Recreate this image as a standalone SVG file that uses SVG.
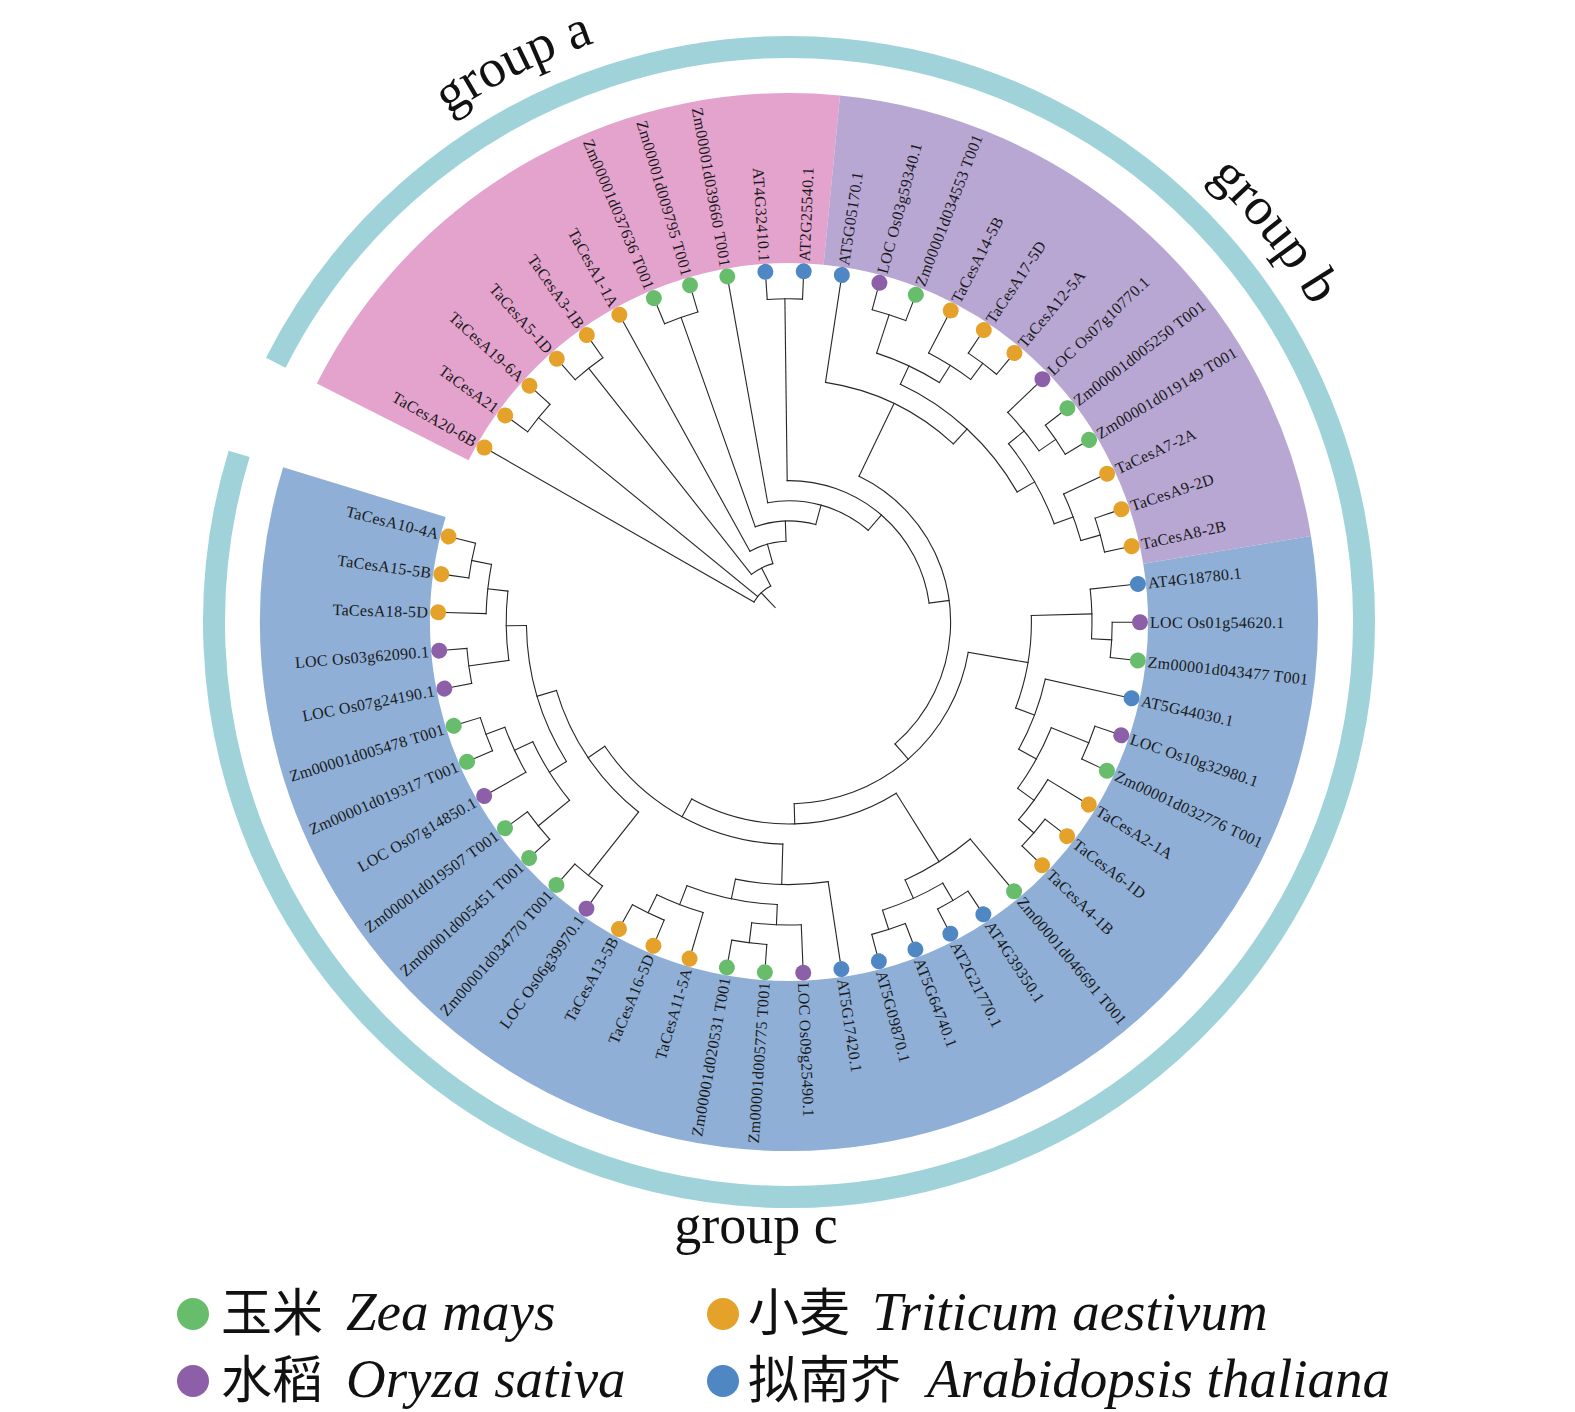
<svg xmlns="http://www.w3.org/2000/svg" width="1575" height="1412" viewBox="0 0 1575 1412">
<defs>
<style>
.br line,.br circle{fill:none;stroke:#262626;stroke-width:1.1;stroke-linecap:square}
.lab{font-family:"Liberation Serif",serif;font-size:16px;letter-spacing:0.3px;fill:#1a1a1a}
.g{fill:#67bd6c}.o{fill:#e5a22a}.p{fill:#8c5fa8}.b{fill:#4f87c5}
.sec{fill:none;stroke-width:170}
.grp{font-family:"Liberation Serif",serif;font-size:54px;fill:#111}
.cjk{font-family:"Noto Sans CJK SC",sans-serif;font-size:51px;fill:#111}
.it{font-family:"Liberation Serif",serif;font-style:italic;font-size:55px;fill:#111}
</style>
<path id="gp" d="M178,622 A611,611 0 0 1 1400,622 A611,611 0 0 1 178,622" fill="none"/>
</defs>
<rect width="1575" height="1412" fill="#fff"/>
<g id="backgrounds" transform="translate(789,622)">
<circle class="sec" r="444" stroke="#e3a3cd" pathLength="360" stroke-dasharray="68.73 999" transform="rotate(-153.2)"/>
<circle class="sec" r="444" stroke="#b8a7d3" pathLength="360" stroke-dasharray="75.12 999" transform="rotate(-84.47)"/>
<circle class="sec" r="444" stroke="#8fafd6" pathLength="360" stroke-dasharray="206.35 999" transform="rotate(-9.35)"/>
<circle r="575" fill="none" stroke="#9fd3d9" stroke-width="22" pathLength="360" stroke-dasharray="350.2 999" transform="rotate(-153.2)"/>
</g>
<g id="group-labels">
<text class="grp"><textPath href="#gp" startOffset="680" text-anchor="middle">group a</textPath></text>
<text class="grp"><textPath href="#gp" startOffset="1505" text-anchor="middle">group b</textPath></text>
<text class="grp" x="756" y="1243" text-anchor="middle">group c</text>
</g>
<g id="connectors" class="br" transform="translate(789,622)">
<line x1="20.2" x2="40.4" transform="rotate(-133.55)"/>
<circle r="40.4" pathLength="360" stroke-dasharray="33.309 999" transform="rotate(-150.2)"/>
<line x1="40.4" x2="60.6" transform="rotate(-116.891)"/>
<circle r="60.6" pathLength="360" stroke-dasharray="22.798 999" transform="rotate(-128.29)"/>
<line x1="60.6" x2="80.8" transform="rotate(-105.492)"/>
<circle r="80.8" pathLength="360" stroke-dasharray="26.816 999" transform="rotate(-118.9)"/>
<line x1="80.8" x2="101" transform="rotate(-92.084)"/>
<circle r="101" pathLength="360" stroke-dasharray="34.852 999" transform="rotate(-109.51)"/>
<line x1="101" x2="121.2" transform="rotate(-74.658)"/>
<circle r="121.2" pathLength="360" stroke-dasharray="50.924 999" transform="rotate(-100.12)"/>
<line x1="121.2" x2="141.4" transform="rotate(-49.196)"/>
<circle r="141.4" pathLength="360" stroke-dasharray="83.0675 999" transform="rotate(-90.73)"/>
<line x1="141.4" x2="161.6" transform="rotate(-7.6625)"/>
<circle r="161.6" pathLength="360" stroke-dasharray="113.315 999" transform="rotate(-64.32)"/>
<line x1="40.4" x2="323.2" transform="rotate(-140.81)"/>
<circle r="323.2" pathLength="360" stroke-dasharray="6.26 999" transform="rotate(-143.94)"/>
<line x1="60.6" x2="323.2" transform="rotate(-128.29)"/>
<circle r="323.2" pathLength="360" stroke-dasharray="6.26 999" transform="rotate(-131.42)"/>
<line x1="101" x2="323.2" transform="rotate(-109.51)"/>
<circle r="323.2" pathLength="360" stroke-dasharray="6.26 999" transform="rotate(-112.64)"/>
<line x1="141.4" x2="323.2" transform="rotate(-90.73)"/>
<circle r="323.2" pathLength="360" stroke-dasharray="6.26 999" transform="rotate(-93.86)"/>
<line x1="161.6" x2="242.4" transform="rotate(-64.32)"/>
<circle r="242.4" pathLength="360" stroke-dasharray="34.04 999" transform="rotate(-81.34)"/>
<line x1="242.4" x2="262.6" transform="rotate(-47.3)"/>
<circle r="262.6" pathLength="360" stroke-dasharray="35.2125 999" transform="rotate(-64.9075)"/>
<line x1="262.6" x2="282.8" transform="rotate(-64.9075)"/>
<circle r="282.8" pathLength="360" stroke-dasharray="14.085 999" transform="rotate(-71.95)"/>
<line x1="282.8" x2="323.2" transform="rotate(-71.95)"/>
<circle r="323.2" pathLength="360" stroke-dasharray="6.26 999" transform="rotate(-75.08)"/>
<line x1="282.8" x2="303" transform="rotate(-57.865)"/>
<circle r="303" pathLength="360" stroke-dasharray="9.39 999" transform="rotate(-62.56)"/>
<line x1="303" x2="323.2" transform="rotate(-53.17)"/>
<circle r="323.2" pathLength="360" stroke-dasharray="6.26 999" transform="rotate(-56.3)"/>
<line x1="262.6" x2="282.8" transform="rotate(-29.695)"/>
<circle r="282.8" pathLength="360" stroke-dasharray="18.78 999" transform="rotate(-39.085)"/>
<line x1="282.8" x2="303" transform="rotate(-39.085)"/>
<circle r="303" pathLength="360" stroke-dasharray="9.39 999" transform="rotate(-43.78)"/>
<line x1="303" x2="323.2" transform="rotate(-34.39)"/>
<circle r="323.2" pathLength="360" stroke-dasharray="6.26 999" transform="rotate(-37.52)"/>
<line x1="282.8" x2="303" transform="rotate(-20.305)"/>
<circle r="303" pathLength="360" stroke-dasharray="9.39 999" transform="rotate(-25)"/>
<line x1="303" x2="323.2" transform="rotate(-15.61)"/>
<circle r="323.2" pathLength="360" stroke-dasharray="6.26 999" transform="rotate(-18.74)"/>
<line x1="161.6" x2="181.8" transform="rotate(48.995)"/>
<circle r="181.8" pathLength="360" stroke-dasharray="78.739 999" transform="rotate(9.6255)"/>
<line x1="181.8" x2="242.4" transform="rotate(9.6255)"/>
<circle r="242.4" pathLength="360" stroke-dasharray="22.301 999" transform="rotate(-1.525)"/>
<line x1="242.4" x2="303" transform="rotate(-1.525)"/>
<circle r="303" pathLength="360" stroke-dasharray="9.39 999" transform="rotate(-6.22)"/>
<line x1="303" x2="323.2" transform="rotate(3.17)"/>
<circle r="323.2" pathLength="360" stroke-dasharray="6.26 999" transform="rotate(0.04)"/>
<line x1="242.4" x2="262.6" transform="rotate(20.776)"/>
<circle r="262.6" pathLength="360" stroke-dasharray="16.4325 999" transform="rotate(12.56)"/>
<line x1="262.6" x2="282.8" transform="rotate(28.9925)"/>
<circle r="282.8" pathLength="360" stroke-dasharray="14.085 999" transform="rotate(21.95)"/>
<line x1="282.8" x2="323.2" transform="rotate(21.95)"/>
<circle r="323.2" pathLength="360" stroke-dasharray="6.26 999" transform="rotate(18.82)"/>
<line x1="282.8" x2="303" transform="rotate(36.035)"/>
<circle r="303" pathLength="360" stroke-dasharray="9.39 999" transform="rotate(31.34)"/>
<line x1="303" x2="323.2" transform="rotate(40.73)"/>
<circle r="323.2" pathLength="360" stroke-dasharray="6.26 999" transform="rotate(37.6)"/>
<line x1="181.8" x2="202" transform="rotate(88.3645)"/>
<circle r="202" pathLength="360" stroke-dasharray="60.839 999" transform="rotate(57.945)"/>
<line x1="202" x2="282.8" transform="rotate(57.945)"/>
<circle r="282.8" pathLength="360" stroke-dasharray="15.65 999" transform="rotate(50.12)"/>
<line x1="282.8" x2="303" transform="rotate(65.77)"/>
<circle r="303" pathLength="360" stroke-dasharray="12.52 999" transform="rotate(59.51)"/>
<line x1="303" x2="323.2" transform="rotate(59.51)"/>
<circle r="323.2" pathLength="360" stroke-dasharray="6.26 999" transform="rotate(56.38)"/>
<line x1="303" x2="323.2" transform="rotate(72.03)"/>
<circle r="323.2" pathLength="360" stroke-dasharray="6.26 999" transform="rotate(68.9)"/>
<line x1="202" x2="222.2" transform="rotate(118.784)"/>
<circle r="222.2" pathLength="360" stroke-dasharray="54.3835 999" transform="rotate(91.5925)"/>
<line x1="222.2" x2="262.6" transform="rotate(91.5925)"/>
<circle r="262.6" pathLength="360" stroke-dasharray="20.345 999" transform="rotate(81.42)"/>
<line x1="262.6" x2="282.8" transform="rotate(101.765)"/>
<circle r="282.8" pathLength="360" stroke-dasharray="18.78 999" transform="rotate(92.375)"/>
<line x1="282.8" x2="303" transform="rotate(92.375)"/>
<circle r="303" pathLength="360" stroke-dasharray="9.39 999" transform="rotate(87.68)"/>
<line x1="303" x2="323.2" transform="rotate(97.07)"/>
<circle r="323.2" pathLength="360" stroke-dasharray="6.26 999" transform="rotate(93.94)"/>
<line x1="282.8" x2="303" transform="rotate(111.155)"/>
<circle r="303" pathLength="360" stroke-dasharray="9.39 999" transform="rotate(106.46)"/>
<line x1="303" x2="323.2" transform="rotate(115.85)"/>
<circle r="323.2" pathLength="360" stroke-dasharray="6.26 999" transform="rotate(112.72)"/>
<line x1="222.2" x2="242.4" transform="rotate(145.976)"/>
<circle r="242.4" pathLength="360" stroke-dasharray="35.2125 999" transform="rotate(128.37)"/>
<line x1="242.4" x2="323.2" transform="rotate(128.37)"/>
<circle r="323.2" pathLength="360" stroke-dasharray="6.26 999" transform="rotate(125.24)"/>
<line x1="242.4" x2="262.6" transform="rotate(163.5825)"/>
<circle r="262.6" pathLength="360" stroke-dasharray="31.3 999" transform="rotate(147.9325)"/>
<line x1="262.6" x2="282.8" transform="rotate(147.9325)"/>
<circle r="282.8" pathLength="360" stroke-dasharray="14.085 999" transform="rotate(140.89)"/>
<line x1="282.8" x2="323.2" transform="rotate(140.89)"/>
<circle r="323.2" pathLength="360" stroke-dasharray="6.26 999" transform="rotate(137.76)"/>
<line x1="282.8" x2="303" transform="rotate(154.975)"/>
<circle r="303" pathLength="360" stroke-dasharray="9.39 999" transform="rotate(150.28)"/>
<line x1="303" x2="323.2" transform="rotate(159.67)"/>
<circle r="323.2" pathLength="360" stroke-dasharray="6.26 999" transform="rotate(156.54)"/>
<line x1="262.6" x2="282.8" transform="rotate(179.2325)"/>
<circle r="282.8" pathLength="360" stroke-dasharray="14.085 999" transform="rotate(172.19)"/>
<line x1="282.8" x2="323.2" transform="rotate(172.19)"/>
<circle r="323.2" pathLength="360" stroke-dasharray="6.26 999" transform="rotate(169.06)"/>
<line x1="282.8" x2="303" transform="rotate(186.275)"/>
<circle r="303" pathLength="360" stroke-dasharray="9.39 999" transform="rotate(181.58)"/>
<line x1="303" x2="323.2" transform="rotate(190.97)"/>
<circle r="323.2" pathLength="360" stroke-dasharray="6.26 999" transform="rotate(187.84)"/>
<line x1="40.4" x2="343" transform="rotate(-150.2)"/>
<line x1="323.2" x2="343" transform="rotate(-143.94)"/>
<line x1="323.2" x2="343" transform="rotate(-137.68)"/>
<line x1="323.2" x2="343" transform="rotate(-131.42)"/>
<line x1="323.2" x2="343" transform="rotate(-125.16)"/>
<line x1="80.8" x2="343" transform="rotate(-118.9)"/>
<line x1="323.2" x2="343" transform="rotate(-112.64)"/>
<line x1="323.2" x2="343" transform="rotate(-106.38)"/>
<line x1="121.2" x2="343" transform="rotate(-100.12)"/>
<line x1="323.2" x2="343" transform="rotate(-93.86)"/>
<line x1="323.2" x2="343" transform="rotate(-87.6)"/>
<line x1="242.4" x2="343" transform="rotate(-81.34)"/>
<line x1="323.2" x2="343" transform="rotate(-75.08)"/>
<line x1="323.2" x2="343" transform="rotate(-68.82)"/>
<line x1="303" x2="343" transform="rotate(-62.56)"/>
<line x1="323.2" x2="343" transform="rotate(-56.3)"/>
<line x1="323.2" x2="343" transform="rotate(-50.04)"/>
<line x1="303" x2="343" transform="rotate(-43.78)"/>
<line x1="323.2" x2="343" transform="rotate(-37.52)"/>
<line x1="323.2" x2="343" transform="rotate(-31.26)"/>
<line x1="303" x2="343" transform="rotate(-25)"/>
<line x1="323.2" x2="343" transform="rotate(-18.74)"/>
<line x1="323.2" x2="343" transform="rotate(-12.48)"/>
<line x1="303" x2="343" transform="rotate(-6.22)"/>
<line x1="323.2" x2="343" transform="rotate(0.04)"/>
<line x1="323.2" x2="343" transform="rotate(6.3)"/>
<line x1="262.6" x2="343" transform="rotate(12.56)"/>
<line x1="323.2" x2="343" transform="rotate(18.82)"/>
<line x1="323.2" x2="343" transform="rotate(25.08)"/>
<line x1="303" x2="343" transform="rotate(31.34)"/>
<line x1="323.2" x2="343" transform="rotate(37.6)"/>
<line x1="323.2" x2="343" transform="rotate(43.86)"/>
<line x1="282.8" x2="343" transform="rotate(50.12)"/>
<line x1="323.2" x2="343" transform="rotate(56.38)"/>
<line x1="323.2" x2="343" transform="rotate(62.64)"/>
<line x1="323.2" x2="343" transform="rotate(68.9)"/>
<line x1="323.2" x2="343" transform="rotate(75.16)"/>
<line x1="262.6" x2="343" transform="rotate(81.42)"/>
<line x1="303" x2="343" transform="rotate(87.68)"/>
<line x1="323.2" x2="343" transform="rotate(93.94)"/>
<line x1="323.2" x2="343" transform="rotate(100.2)"/>
<line x1="303" x2="343" transform="rotate(106.46)"/>
<line x1="323.2" x2="343" transform="rotate(112.72)"/>
<line x1="323.2" x2="343" transform="rotate(118.98)"/>
<line x1="323.2" x2="343" transform="rotate(125.24)"/>
<line x1="323.2" x2="343" transform="rotate(131.5)"/>
<line x1="323.2" x2="343" transform="rotate(137.76)"/>
<line x1="323.2" x2="343" transform="rotate(144.02)"/>
<line x1="303" x2="343" transform="rotate(150.28)"/>
<line x1="323.2" x2="343" transform="rotate(156.54)"/>
<line x1="323.2" x2="343" transform="rotate(162.8)"/>
<line x1="323.2" x2="343" transform="rotate(169.06)"/>
<line x1="323.2" x2="343" transform="rotate(175.32)"/>
<line x1="303" x2="343" transform="rotate(181.58)"/>
<line x1="323.2" x2="343" transform="rotate(187.84)"/>
<line x1="323.2" x2="343" transform="rotate(194.1)"/>
</g>
<g id="tips" transform="translate(789,622)">
<g id="t0" transform="rotate(-150.2)"><circle class="o" cx="351" r="8"/><text class="lab" transform="rotate(180)" x="-361" dy=".35em" text-anchor="end">TaCesA20-6B</text></g>
<g id="t1" transform="rotate(-143.94)"><circle class="o" cx="351" r="8"/><text class="lab" transform="rotate(180)" x="-361" dy=".35em" text-anchor="end">TaCesA21</text></g>
<g id="t2" transform="rotate(-137.68)"><circle class="o" cx="351" r="8"/><text class="lab" transform="rotate(180)" x="-361" dy=".35em" text-anchor="end">TaCesA19-6A</text></g>
<g id="t3" transform="rotate(-131.42)"><circle class="o" cx="351" r="8"/><text class="lab" transform="rotate(180)" x="-361" dy=".35em" text-anchor="end">TaCesA5-1D</text></g>
<g id="t4" transform="rotate(-125.16)"><circle class="o" cx="351" r="8"/><text class="lab" transform="rotate(180)" x="-361" dy=".35em" text-anchor="end">TaCesA3-1B</text></g>
<g id="t5" transform="rotate(-118.9)"><circle class="o" cx="351" r="8"/><text class="lab" transform="rotate(180)" x="-361" dy=".35em" text-anchor="end">TaCesA1-1A</text></g>
<g id="t6" transform="rotate(-112.64)"><circle class="g" cx="351" r="8"/><text class="lab" transform="rotate(180)" x="-361" dy=".35em" text-anchor="end">Zm00001d037636 T001</text></g>
<g id="t7" transform="rotate(-106.38)"><circle class="g" cx="351" r="8"/><text class="lab" transform="rotate(180)" x="-361" dy=".35em" text-anchor="end">Zm00001d009795 T001</text></g>
<g id="t8" transform="rotate(-100.12)"><circle class="g" cx="351" r="8"/><text class="lab" transform="rotate(180)" x="-361" dy=".35em" text-anchor="end">Zm00001d039660 T001</text></g>
<g id="t9" transform="rotate(-93.86)"><circle class="b" cx="351" r="8"/><text class="lab" transform="rotate(180)" x="-361" dy=".35em" text-anchor="end">AT4G32410.1</text></g>
<g id="t10" transform="rotate(-87.6)"><circle class="b" cx="351" r="8"/><text class="lab" x="361" dy=".35em">AT2G25540.1</text></g>
<g id="t11" transform="rotate(-81.34)"><circle class="b" cx="351" r="8"/><text class="lab" x="361" dy=".35em">AT5G05170.1</text></g>
<g id="t12" transform="rotate(-75.08)"><circle class="p" cx="351" r="8"/><text class="lab" x="361" dy=".35em">LOC Os03g59340.1</text></g>
<g id="t13" transform="rotate(-68.82)"><circle class="g" cx="351" r="8"/><text class="lab" x="361" dy=".35em">Zm00001d034553 T001</text></g>
<g id="t14" transform="rotate(-62.56)"><circle class="o" cx="351" r="8"/><text class="lab" x="361" dy=".35em">TaCesA14-5B</text></g>
<g id="t15" transform="rotate(-56.3)"><circle class="o" cx="351" r="8"/><text class="lab" x="361" dy=".35em">TaCesA17-5D</text></g>
<g id="t16" transform="rotate(-50.04)"><circle class="o" cx="351" r="8"/><text class="lab" x="361" dy=".35em">TaCesA12-5A</text></g>
<g id="t17" transform="rotate(-43.78)"><circle class="p" cx="351" r="8"/><text class="lab" x="361" dy=".35em">LOC Os07g10770.1</text></g>
<g id="t18" transform="rotate(-37.52)"><circle class="g" cx="351" r="8"/><text class="lab" x="361" dy=".35em">Zm00001d005250 T001</text></g>
<g id="t19" transform="rotate(-31.26)"><circle class="g" cx="351" r="8"/><text class="lab" x="361" dy=".35em">Zm00001d019149 T001</text></g>
<g id="t20" transform="rotate(-25)"><circle class="o" cx="351" r="8"/><text class="lab" x="361" dy=".35em">TaCesA7-2A</text></g>
<g id="t21" transform="rotate(-18.74)"><circle class="o" cx="351" r="8"/><text class="lab" x="361" dy=".35em">TaCesA9-2D</text></g>
<g id="t22" transform="rotate(-12.48)"><circle class="o" cx="351" r="8"/><text class="lab" x="361" dy=".35em">TaCesA8-2B</text></g>
<g id="t23" transform="rotate(-6.22)"><circle class="b" cx="351" r="8"/><text class="lab" x="361" dy=".35em">AT4G18780.1</text></g>
<g id="t24" transform="rotate(0.04)"><circle class="p" cx="351" r="8"/><text class="lab" x="361" dy=".35em">LOC Os01g54620.1</text></g>
<g id="t25" transform="rotate(6.3)"><circle class="g" cx="351" r="8"/><text class="lab" x="361" dy=".35em">Zm00001d043477 T001</text></g>
<g id="t26" transform="rotate(12.56)"><circle class="b" cx="351" r="8"/><text class="lab" x="361" dy=".35em">AT5G44030.1</text></g>
<g id="t27" transform="rotate(18.82)"><circle class="p" cx="351" r="8"/><text class="lab" x="361" dy=".35em">LOC Os10g32980.1</text></g>
<g id="t28" transform="rotate(25.08)"><circle class="g" cx="351" r="8"/><text class="lab" x="361" dy=".35em">Zm00001d032776 T001</text></g>
<g id="t29" transform="rotate(31.34)"><circle class="o" cx="351" r="8"/><text class="lab" x="361" dy=".35em">TaCesA2-1A</text></g>
<g id="t30" transform="rotate(37.6)"><circle class="o" cx="351" r="8"/><text class="lab" x="361" dy=".35em">TaCesA6-1D</text></g>
<g id="t31" transform="rotate(43.86)"><circle class="o" cx="351" r="8"/><text class="lab" x="361" dy=".35em">TaCesA4-1B</text></g>
<g id="t32" transform="rotate(50.12)"><circle class="g" cx="351" r="8"/><text class="lab" x="361" dy=".35em">Zm00001d046691 T001</text></g>
<g id="t33" transform="rotate(56.38)"><circle class="b" cx="351" r="8"/><text class="lab" x="361" dy=".35em">AT4G39350.1</text></g>
<g id="t34" transform="rotate(62.64)"><circle class="b" cx="351" r="8"/><text class="lab" x="361" dy=".35em">AT2G21770.1</text></g>
<g id="t35" transform="rotate(68.9)"><circle class="b" cx="351" r="8"/><text class="lab" x="361" dy=".35em">AT5G64740.1</text></g>
<g id="t36" transform="rotate(75.16)"><circle class="b" cx="351" r="8"/><text class="lab" x="361" dy=".35em">AT5G09870.1</text></g>
<g id="t37" transform="rotate(81.42)"><circle class="b" cx="351" r="8"/><text class="lab" x="361" dy=".35em">AT5G17420.1</text></g>
<g id="t38" transform="rotate(87.68)"><circle class="p" cx="351" r="8"/><text class="lab" x="361" dy=".35em">LOC Os09g25490.1</text></g>
<g id="t39" transform="rotate(93.94)"><circle class="g" cx="351" r="8"/><text class="lab" transform="rotate(180)" x="-361" dy=".35em" text-anchor="end">Zm00001d005775 T001</text></g>
<g id="t40" transform="rotate(100.2)"><circle class="g" cx="351" r="8"/><text class="lab" transform="rotate(180)" x="-361" dy=".35em" text-anchor="end">Zm00001d020531 T001</text></g>
<g id="t41" transform="rotate(106.46)"><circle class="o" cx="351" r="8"/><text class="lab" transform="rotate(180)" x="-361" dy=".35em" text-anchor="end">TaCesA11-5A</text></g>
<g id="t42" transform="rotate(112.72)"><circle class="o" cx="351" r="8"/><text class="lab" transform="rotate(180)" x="-361" dy=".35em" text-anchor="end">TaCesA16-5D</text></g>
<g id="t43" transform="rotate(118.98)"><circle class="o" cx="351" r="8"/><text class="lab" transform="rotate(180)" x="-361" dy=".35em" text-anchor="end">TaCesA13-5B</text></g>
<g id="t44" transform="rotate(125.24)"><circle class="p" cx="351" r="8"/><text class="lab" transform="rotate(180)" x="-361" dy=".35em" text-anchor="end">LOC Os06g39970.1</text></g>
<g id="t45" transform="rotate(131.5)"><circle class="g" cx="351" r="8"/><text class="lab" transform="rotate(180)" x="-361" dy=".35em" text-anchor="end">Zm00001d034770 T001</text></g>
<g id="t46" transform="rotate(137.76)"><circle class="g" cx="351" r="8"/><text class="lab" transform="rotate(180)" x="-361" dy=".35em" text-anchor="end">Zm00001d005451 T001</text></g>
<g id="t47" transform="rotate(144.02)"><circle class="g" cx="351" r="8"/><text class="lab" transform="rotate(180)" x="-361" dy=".35em" text-anchor="end">Zm00001d019507 T001</text></g>
<g id="t48" transform="rotate(150.28)"><circle class="p" cx="351" r="8"/><text class="lab" transform="rotate(180)" x="-361" dy=".35em" text-anchor="end">LOC Os07g14850.1</text></g>
<g id="t49" transform="rotate(156.54)"><circle class="g" cx="351" r="8"/><text class="lab" transform="rotate(180)" x="-361" dy=".35em" text-anchor="end">Zm00001d019317 T001</text></g>
<g id="t50" transform="rotate(162.8)"><circle class="g" cx="351" r="8"/><text class="lab" transform="rotate(180)" x="-361" dy=".35em" text-anchor="end">Zm00001d005478 T001</text></g>
<g id="t51" transform="rotate(169.06)"><circle class="p" cx="351" r="8"/><text class="lab" transform="rotate(180)" x="-361" dy=".35em" text-anchor="end">LOC Os07g24190.1</text></g>
<g id="t52" transform="rotate(175.32)"><circle class="p" cx="351" r="8"/><text class="lab" transform="rotate(180)" x="-361" dy=".35em" text-anchor="end">LOC Os03g62090.1</text></g>
<g id="t53" transform="rotate(181.58)"><circle class="o" cx="351" r="8"/><text class="lab" transform="rotate(180)" x="-361" dy=".35em" text-anchor="end">TaCesA18-5D</text></g>
<g id="t54" transform="rotate(187.84)"><circle class="o" cx="351" r="8"/><text class="lab" transform="rotate(180)" x="-361" dy=".35em" text-anchor="end">TaCesA15-5B</text></g>
<g id="t55" transform="rotate(194.1)"><circle class="o" cx="351" r="8"/><text class="lab" transform="rotate(180)" x="-361" dy=".35em" text-anchor="end">TaCesA10-4A</text></g>
</g>
<g id="legend">
<circle class="g" cx="193" cy="1314" r="16"/>
<text class="cjk" x="221" y="1331">玉米</text><text class="it" x="346" y="1330">Zea mays</text>
<circle class="o" cx="723" cy="1314" r="16"/>
<text class="cjk" x="748" y="1331">小麦</text><text class="it" x="872" y="1330">Triticum aestivum</text>
<circle class="p" cx="193" cy="1381" r="16"/>
<text class="cjk" x="221" y="1398">水稻</text><text class="it" x="346" y="1397">Oryza sativa</text>
<circle class="b" cx="723" cy="1381" r="16"/>
<text class="cjk" x="748" y="1398">拟南芥</text><text class="it" x="927" y="1397">Arabidopsis thaliana</text>
</g>
</svg>
